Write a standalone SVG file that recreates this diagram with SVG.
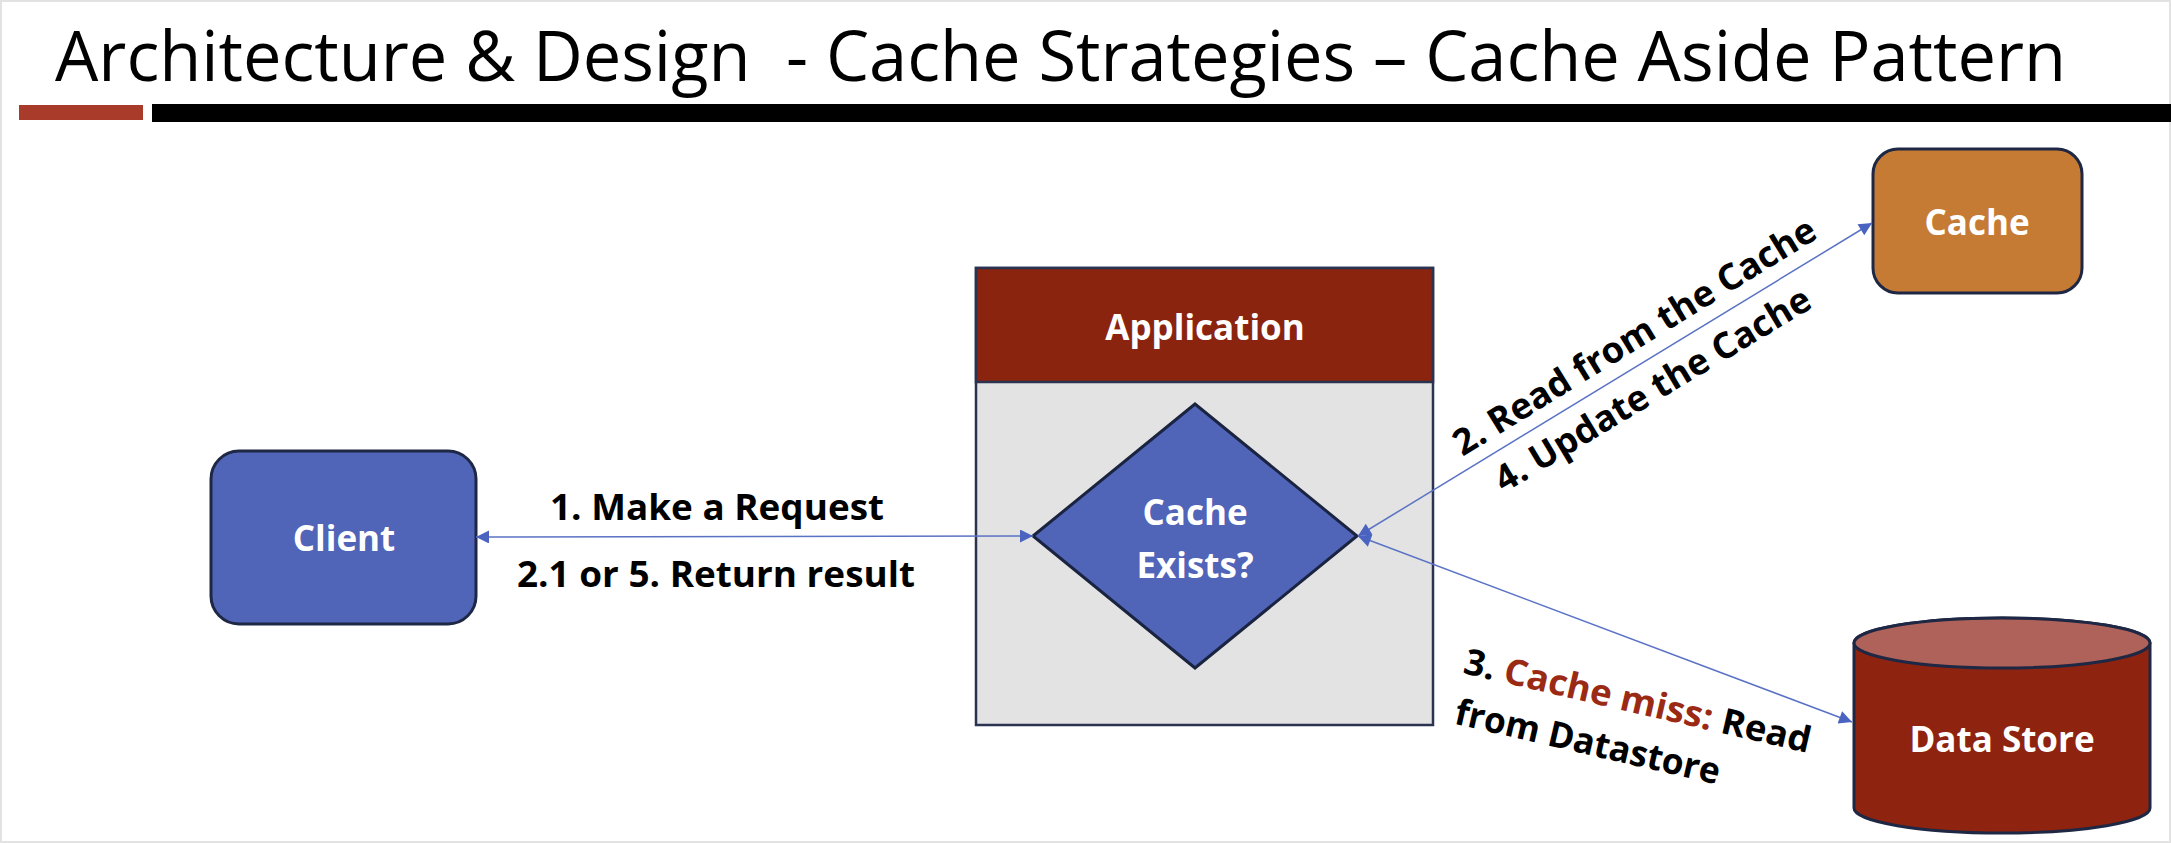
<svg xmlns="http://www.w3.org/2000/svg" width="2171" height="843" viewBox="0 0 2171 843">
<style>
.title{font-family:"Open Sans","Liberation Sans",sans-serif;font-size:69px;fill:#000}
.lbl{font-family:"Open Sans","Liberation Sans",sans-serif;font-weight:700;font-size:36px;fill:#000}
.wh{font-family:"Open Sans","Liberation Sans",sans-serif;font-weight:700;font-size:35px;fill:#fff;text-anchor:middle}
.conn{stroke:#5A72C4;stroke-width:1.5;fill:none;marker-start:url(#ah);marker-end:url(#ah)}
.box{stroke:#1E2744;stroke-width:3}
</style>
<defs>
<marker id="ah" viewBox="0 0 10 10" refX="10" refY="5" markerUnits="userSpaceOnUse" markerWidth="15" markerHeight="13" orient="auto-start-reverse">
<path d="M0,0 L10,5 L0,10 z" fill="#4A63C0"/>
</marker>
</defs>
<rect x="1" y="1" width="2169" height="841" fill="#fff" stroke="#E2E2E2" stroke-width="2"/>
<g id="title">
<text class="title" x="55" y="81" textLength="2011" lengthAdjust="spacingAndGlyphs" xml:space="preserve">Architecture &amp; Design  - Cache Strategies – Cache Aside Pattern</text>
<rect x="19" y="105" width="124" height="15" fill="#A93B2A"/>
<rect x="152" y="104" width="2019" height="18" fill="#000"/>
</g>
<g id="client">
<rect class="box" x="211" y="451" width="265" height="173" rx="28" fill="#5064B8"/>
<text class="wh" x="344" y="551">Client</text>
</g>
<g id="application">
<rect x="976" y="268" width="457" height="457" fill="#E3E3E3" stroke="#2B3350" stroke-width="2.5"/>
<rect x="976" y="268" width="457" height="114" fill="#8B240E" stroke="#2B3350" stroke-width="2.5"/>
<text class="wh" x="1205" y="340">Application</text>
</g>
<g id="cache-exists">
<polygon points="1033,536 1195,404 1357,536 1195,668" fill="#5064B8" stroke="#1A2340" stroke-width="3"/>
<text class="wh" x="1195" y="525">Cache</text>
<text class="wh" x="1195" y="578">Exists?</text>
</g>
<g id="cache">
<rect class="box" x="1873" y="149" width="209" height="144" rx="25" fill="#C67B35"/>
<text class="wh" x="1977" y="235">Cache</text>
</g>
<g id="data-store">
<path d="M1854,643 L1854,808 A148,25 0 0 0 2150,808 L2150,643 A148,25 0 0 0 1854,643 z" fill="#8E2410" stroke="#1E2744" stroke-width="3"/>
<ellipse cx="2002" cy="643" rx="148" ry="25" fill="#AF6259" stroke="#1E2744" stroke-width="3"/>
<text class="wh" x="2002" y="752">Data Store</text>
</g>
<g id="connectors">
<line class="conn" x1="1033" y1="536" x2="476" y2="537"/>
<line class="conn" x1="1358" y1="536" x2="1872" y2="223"/>
<line class="conn" x1="1358" y1="536" x2="1852" y2="722"/>
<text class="lbl" x="717" y="520" text-anchor="middle" textLength="334" lengthAdjust="spacingAndGlyphs">1. Make a Request</text>
<text class="lbl" x="716" y="587" text-anchor="middle" textLength="398" lengthAdjust="spacingAndGlyphs">2.1 or 5. Return result</text>
<text class="lbl" transform="translate(1641,347) rotate(-31.6)" x="0" y="0" text-anchor="middle" textLength="419" lengthAdjust="spacingAndGlyphs">2. Read from the Cache</text>
<text class="lbl" transform="translate(1659,400) rotate(-31)" x="0" y="0" text-anchor="middle" textLength="362" lengthAdjust="spacingAndGlyphs">4. Update the Cache</text>
<text class="lbl" transform="translate(1635,713) rotate(13)" x="0" y="0" text-anchor="middle" textLength="355" lengthAdjust="spacingAndGlyphs">3. <tspan fill="#9B2A14">Cache miss:</tspan> Read</text>
<text class="lbl" transform="translate(1585,754) rotate(13)" x="0" y="0" text-anchor="middle" textLength="271" lengthAdjust="spacingAndGlyphs">from Datastore</text>
</g>
</svg>
